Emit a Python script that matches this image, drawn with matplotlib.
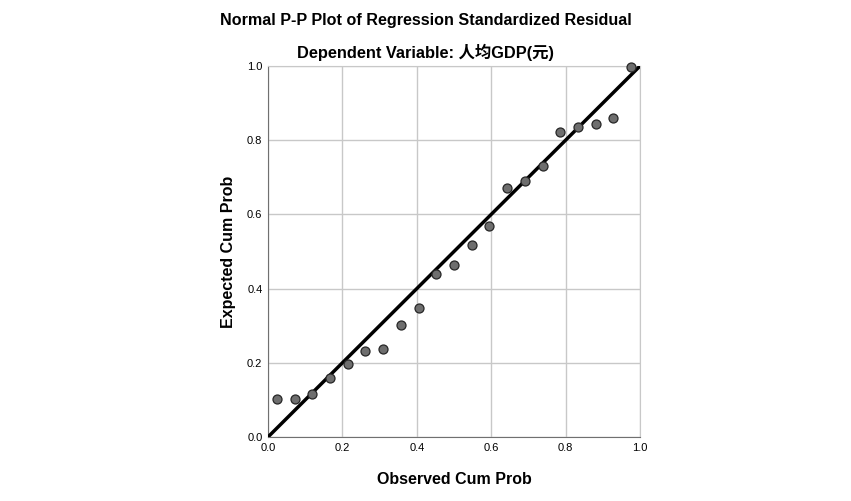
import matplotlib
matplotlib.use("Agg")
import matplotlib.pyplot as plt
import numpy as np

plt.rcParams["font.family"] = ["Liberation Sans", "Noto Sans CJK SC", "DejaVu Sans"]

# observed cumulative probability: (i - 0.5) / n, n = 21
n = 21
observed = (np.arange(1, n + 1) - 0.5) / n
expected = [0.102, 0.103, 0.117, 0.159, 0.198, 0.231, 0.238, 0.302, 0.349, 0.440,
            0.463, 0.517, 0.569, 0.671, 0.690, 0.730, 0.823, 0.836, 0.843, 0.860,
            0.997]
ticks = [0.0, 0.2, 0.4, 0.6, 0.8, 1.0]

fig = plt.figure(figsize=(8.51, 5.01), dpi=100)
ax = fig.add_axes([268 / 851, 64 / 501, 372 / 851, 371 / 501])

ax.grid(True, color="#c8c8c8", lw=1)
ax.set_axisbelow(True)
ax.plot([0, 1], [0, 1], color="black", lw=2.5, zorder=3)
ax.scatter(observed, expected, s=42, facecolor="#6e6e6e", edgecolor="#262626",
           lw=0.9, zorder=4, clip_on=False)

ax.set_xlim(0, 1)
ax.set_ylim(0, 1)
ax.set_xticks(ticks)
ax.set_yticks(ticks)
ax.set_xticklabels(["%.1f" % t for t in ticks])
ax.set_yticklabels(["%.1f" % t for t in ticks])
ax.tick_params(labelsize=8, length=0, pad=4)
for side in ["top", "right"]:
    ax.spines[side].set_color("#c8c8c8")
for side in ["left", "bottom"]:
    ax.spines[side].set_color("#707070")

ax.set_xlabel("Observed Cum Prob", fontsize=11.5, fontweight="bold", labelpad=14)
ax.set_ylabel("Expected Cum Prob", fontsize=11.5, fontweight="bold", labelpad=8)

fig.text(0.5, 1 - 21 / 501, "Normal P-P Plot of Regression Standardized Residual",
         ha="center", va="center", fontsize=11.6, fontweight="bold")
fig.text(0.5, 1 - 52 / 501, "Dependent Variable: 人均GDP(元)",
         ha="center", va="center", fontsize=11.8, fontweight="bold")

fig.savefig("out.png", dpi=100)
